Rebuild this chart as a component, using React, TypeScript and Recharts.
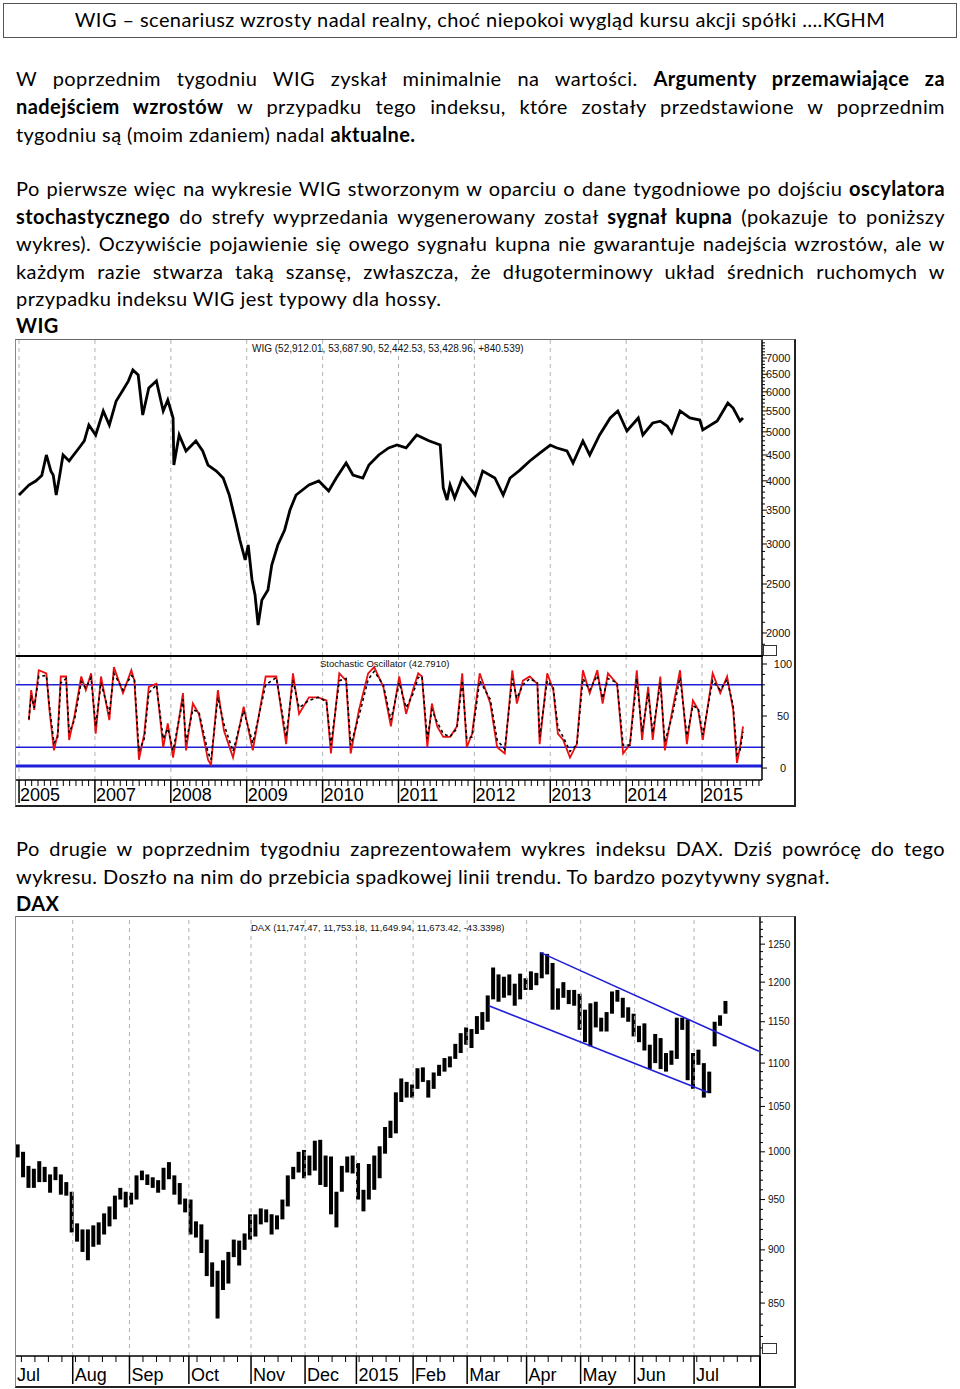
import React from "react";
import { ComposedChart, Line, Bar, XAxis, YAxis, ReferenceLine } from "recharts";

const TEXT_FONT = "Lato, 'Open Sans', sans-serif";
const AXIS_FONT = "'Liberation Sans', Arial, sans-serif";

// WIG weekly, price panel (index / 10, as on the chart scale)
const wigDates = [
  2006.0, 2006.13, 2006.22, 2006.3, 2006.36, 2006.42, 2006.45, 2006.49, 2006.53, 2006.58,
  2006.66, 2006.79, 2006.86, 2006.92, 2007.01, 2007.11, 2007.19, 2007.28, 2007.37, 2007.44,
  2007.5, 2007.57, 2007.63, 2007.71, 2007.81, 2007.9, 2007.96, 2008.03, 2008.04, 2008.11,
  2008.2, 2008.33, 2008.42, 2008.49, 2008.6, 2008.69, 2008.77, 2008.85, 2008.91, 2008.98,
  2009.02, 2009.07, 2009.11, 2009.15, 2009.2, 2009.28, 2009.33, 2009.41, 2009.5, 2009.57,
  2009.65, 2009.82, 2009.95, 2010.08, 2010.18, 2010.31, 2010.4, 2010.53, 2010.61, 2010.74,
  2010.87, 2010.98, 2011.1, 2011.24, 2011.4, 2011.55, 2011.59, 2011.64, 2011.68, 2011.74,
  2011.84, 2011.94, 2012.01, 2012.11, 2012.27, 2012.38, 2012.47, 2012.6, 2012.73, 2012.87,
  2013.0, 2013.08, 2013.22, 2013.3, 2013.43, 2013.52, 2013.65, 2013.79, 2013.89, 2014.01,
  2014.16, 2014.22, 2014.35, 2014.45, 2014.54, 2014.6, 2014.71, 2014.84, 2014.97, 2015.01,
  2015.2, 2015.34, 2015.41, 2015.5, 2015.54,
];
const wigValues = [
  3750, 3925, 3997, 4100, 4500, 4180, 4108, 3750, 4050, 4500,
  4379, 4646, 4800, 5159, 4929, 5499, 5159, 5755, 6051, 6300,
  6628, 6479, 5399, 6105, 6304, 5499, 5781, 5326, 4299, 4929,
  4583, 4796, 4583, 4299, 4183, 4052, 3750, 3347, 3055, 2789,
  2986, 2546, 2378, 2074, 2325, 2433, 2726, 2986, 3198, 3502,
  3750, 3925, 3997, 3819, 4052, 4339, 4108, 4052, 4299, 4500,
  4646, 4709, 4650, 4929, 4800, 4709, 3871, 3665, 3925, 3699,
  4052, 3871, 3750, 4183, 4052, 3750, 4052, 4200, 4379, 4550,
  4709, 4650, 4583, 4339, 4796, 4500, 4929, 5326, 5499, 5020,
  5326, 4929, 5206, 5250, 5135, 4974, 5499, 5326, 5277, 5043,
  5253, 5702, 5574, 5253, 5326,
];

// stochastic oscillator: %K (red) and %D (black dashed)
const oscDates = [
  2006.13, 2006.16, 2006.2, 2006.26, 2006.36, 2006.4, 2006.46, 2006.51, 2006.55, 2006.62,
  2006.66, 2006.73, 2006.82, 2006.88, 2006.95, 2007.01, 2007.08, 2007.19, 2007.25, 2007.37,
  2007.48, 2007.52, 2007.58, 2007.65, 2007.71, 2007.81, 2007.9, 2007.96, 2008.03, 2008.16,
  2008.2, 2008.29, 2008.37, 2008.49, 2008.53, 2008.62, 2008.7, 2008.82, 2008.96, 2009.08,
  2009.25, 2009.39, 2009.52, 2009.61, 2009.69, 2009.82, 2009.94, 2010.05, 2010.11, 2010.22,
  2010.31, 2010.37, 2010.48, 2010.6, 2010.68, 2010.8, 2010.9, 2011.01, 2011.1, 2011.19,
  2011.26, 2011.31, 2011.38, 2011.44, 2011.51, 2011.59, 2011.68, 2011.77, 2011.84, 2011.9,
  2011.97, 2012.07, 2012.21, 2012.3, 2012.4, 2012.5, 2012.56, 2012.64, 2012.73, 2012.83,
  2012.86, 2012.96, 2013.04, 2013.1, 2013.17, 2013.26, 2013.35, 2013.43, 2013.52, 2013.62,
  2013.69, 2013.76, 2013.88, 2013.96, 2014.05, 2014.14, 2014.21, 2014.29, 2014.35, 2014.45,
  2014.51, 2014.6, 2014.71, 2014.8, 2014.88, 2014.95, 2015.01, 2015.14, 2015.24, 2015.33,
  2015.41, 2015.46, 2015.5, 2015.54,
];
const oscK = [
  46, 75, 56, 94, 91, 56, 17, 33, 88, 88,
  27, 50, 88, 75, 91, 33, 88, 46, 97, 72,
  94, 84, 8, 33, 78, 81, 20, 43, 10, 72,
  17, 62, 52, 8, 3, 75, 36, 10, 59, 17,
  88, 88, 23, 91, 52, 68, 68, 65, 14, 91,
  84, 14, 56, 91, 97, 78, 40, 88, 52, 75,
  91, 88, 20, 62, 40, 30, 30, 40, 91, 20,
  33, 91, 62, 20, 14, 94, 62, 84, 88, 81,
  23, 91, 75, 33, 27, 10, 23, 94, 72, 94,
  62, 91, 81, 14, 23, 94, 27, 78, 27, 88,
  17, 52, 94, 23, 65, 56, 27, 91, 72, 88,
  56, 5, 20, 40,
];
const oscD = [
  47, 70, 58, 88, 89, 60, 24, 30, 82, 86,
  34, 46, 83, 77, 87, 40, 82, 52, 91, 75,
  89, 86, 16, 28, 72, 80, 28, 38, 17, 66,
  25, 56, 54, 15, 8, 68, 42, 16, 55, 24,
  80, 87, 30, 84, 58, 65, 68, 64, 22, 84,
  86, 22, 50, 85, 93, 80, 46, 82, 58, 71,
  87, 88, 28, 56, 44, 33, 30, 38, 84, 28,
  30, 84, 66, 27, 18, 86, 67, 80, 86, 82,
  30, 84, 77, 39, 30, 16, 22, 86, 75, 89,
  67, 86, 82, 22, 22, 86, 35, 72, 34, 82,
  25, 48, 87, 31, 60, 57, 32, 84, 75, 85,
  60, 13, 17, 35,
];

const wigYearStarts = [2006, 2007, 2008, 2009, 2010, 2011, 2012, 2013, 2014, 2015];
const wigYearLabels = ["2005", "2007", "2008", "2009", "2010", "2011", "2012", "2013", "2014", "2015"];
const wigPriceLabels = [2000, 2500, 3000, 3500, 4000, 4500, 5000, 5500, 6000, 6500, 7000];
const oscLabels = [0, 50, 100];

// DAX daily, every 2 sessions from 3 Jul 2014: low / high (index / 10)
const daxLow = [
  994, 973, 962, 962, 968, 968, 957, 970, 955, 954,
  917, 908, 898, 890, 903, 905, 915, 923, 930, 950,
  942, 945, 950, 970, 965, 962, 957, 960, 971, 955,
  945, 937, 915, 912, 897, 875, 865, 836, 862, 868,
  893, 885, 900, 910, 913, 925, 927, 915, 920, 930,
  943, 971, 978, 972, 975, 980, 965, 963, 935, 922,
  958, 978, 977, 950, 938, 950, 960, 972, 998, 1015,
  1020, 1055, 1060, 1060, 1070, 1078, 1060, 1070, 1085, 1090,
  1095, 1105, 1112, 1122, 1118, 1135, 1140, 1150, 1178, 1175,
  1180, 1183, 1170, 1178, 1190, 1190, 1196, 1205, 1210, 1165,
  1165, 1180, 1172, 1170, 1140, 1125, 1120, 1143, 1138, 1138,
  1160, 1175, 1155, 1150, 1132, 1125, 1115, 1093, 1100, 1093,
  1090, 1098, 1105, 1140, 1080, 1070, 1098, 1060, 1065, 1120,
  1145, 1160,
];
const daxHigh = [
  1008, 1000, 985, 982, 990, 984, 976, 984, 976, 968,
  958, 926, 920, 920, 924, 927, 936, 943, 954, 962,
  958, 957, 975, 980, 976, 973, 970, 983, 989, 975,
  967, 951, 950, 928, 925, 910, 888, 880, 890, 898,
  910, 909, 916, 935, 935, 941, 940, 935, 934, 950,
  975, 984, 1000, 1002, 996, 1012, 1013, 996, 995, 958,
  985, 995, 996, 988, 960, 987, 996, 1006, 1027, 1034,
  1066, 1082, 1078, 1075, 1094, 1095, 1080, 1089, 1098, 1106,
  1108, 1123, 1136, 1143, 1141, 1157, 1162, 1183, 1219, 1210,
  1207, 1210, 1198, 1211, 1205, 1214, 1212, 1239, 1237, 1225,
  1192, 1200, 1190, 1190, 1185, 1165, 1173, 1175, 1155, 1162,
  1188, 1190, 1180, 1168, 1160, 1145, 1148, 1122, 1135, 1130,
  1112, 1115, 1155, 1155, 1153, 1112, 1116, 1100, 1090, 1150,
  1158, 1176,
];
const daxMonthStarts = [21, 42, 64, 87, 107, 126, 147, 167, 189, 209, 229, 251];
const daxMonthLabels = ["Aug", "Sep", "Oct", "Nov", "Dec", "2015", "Feb", "Mar", "Apr", "May", "Jun", "Jul"];
const daxPriceLabels = [850, 900, 950, 1000, 1050, 1100, 1150, 1200, 1250];
const channelUpper = [
  { d: 194, v: 1239 },
  { d: 275, v: 1114 },
];
const channelLower = [
  { d: 175, v: 1170 },
  { d: 256, v: 1066 },
];

const WIG_X: [number, number] = [2005.96, 2015.79];
const DAX_X: [number, number] = [0, 275.4];
const GRID = "#b4b4b4";
const BLUE = "#1f1fd8";

const wigTable = wigDates.map((t, i) => ({ t, v: wigValues[i] }));
const oscTable = oscDates.map((t, i) => ({ t, k: oscK[i], d: oscD[i] }));
const daxTable = daxLow.map((lo, i) => ({ d: i * 2 + 0.5, range: [lo, daxHigh[i]] }));

// axis decorations
const priceTicks: number[] = [];
for (let v = 1900; v <= 7500; v += 100) priceTicks.push(v);
const oscTicks: number[] = [];
for (let v = 0; v <= 100; v += 10) oscTicks.push(v);
const daxYTicks: number[] = [];
for (let v = 810; v <= 1280; v += 10) daxYTicks.push(v);
const wigXTicks: number[] = [];
wigYearStarts.forEach((y) => {
  for (let m = 0; m < 12; m++) if (y + m / 12 < WIG_X[1]) wigXTicks.push(y + m / 12);
});
const daxXTicks: number[] = [0, ...daxMonthStarts];
for (let d = 2; d < DAX_X[1]; d += 5) {
  if (!daxXTicks.includes(d)) daxXTicks.push(d);
}
daxXTicks.sort((a, b) => a - b);

function makeYTick(majors: number[], len: number, dx: number, size: number, anchor: string) {
  return (props: any) => {
    const { x, y, payload } = props;
    const major = majors.includes(payload.value);
    return (
      <g>
        <line x1={x} x2={x + (major ? len : 3)} y1={y} y2={y} stroke="#000" strokeWidth={1} />
        {major && (
          <text x={x + dx} y={y + size * 0.36} fontSize={size} fontFamily={AXIS_FONT} fill="#111" textAnchor={anchor}>
            {payload.value}
          </text>
        )}
      </g>
    );
  };
}

const wigXTick = (props: any) => {
  const { x, y, payload } = props;
  const idx = wigYearStarts.indexOf(payload.value);
  if (idx < 0) return <line x1={x} x2={x} y1={y} y2={y + 6} stroke="#000" />;
  return (
    <g>
      <line x1={x} x2={x} y1={y} y2={y + 23} stroke="#000" strokeWidth={1.5} />
      <text x={x + 1} y={y + 21} fontSize={18} fontFamily={AXIS_FONT} fill="#000">
        {wigYearLabels[idx]}
      </text>
    </g>
  );
};

const daxXTick = (props: any) => {
  const { x, y, payload } = props;
  const v = payload.value;
  if (v === 0)
    return (
      <text x={x + 1} y={y + 25} fontSize={18} fontFamily={AXIS_FONT} fill="#000">
        Jul
      </text>
    );
  const idx = daxMonthStarts.indexOf(v);
  if (idx < 0) return <line x1={x} x2={x} y1={y} y2={y + 6} stroke="#000" />;
  return (
    <g>
      <line x1={x} x2={x} y1={y} y2={y + 28} stroke="#000" strokeWidth={1.5} />
      <text x={x + 2} y={y + 25} fontSize={18} fontFamily={AXIS_FONT} fill="#000">
        {daxMonthLabels[idx]}
      </text>
    </g>
  );
};

const bodyText: React.CSSProperties = {
  fontFamily: TEXT_FONT,
  fontSize: 20,
  letterSpacing: "0.42px",
  color: "#000",
};

function TextLine({ top, justify, children }: { top: number; justify?: boolean; children: React.ReactNode }) {
  return (
    <div
      style={{
        position: "absolute",
        left: 16,
        top,
        width: 929,
        lineHeight: "28px",
        textAlign: justify ? "justify" : "left",
        textAlignLast: justify ? "justify" : "left",
        ...bodyText,
      }}
    >
      {children}
    </div>
  );
}

const abs = (left: number, top: number, extra: React.CSSProperties = {}): React.CSSProperties => ({
  position: "absolute",
  left,
  top,
  ...extra,
});

export default function App() {
  return (
    <div style={{ position: "absolute", left: 0, top: 0, width: 960, height: 1389, background: "#fff", overflow: "hidden" }}>
      {/* title box */}
      <div
        style={abs(3, 3, {
          width: 954,
          height: 35,
          boxSizing: "border-box",
          border: "1.5px solid #555",
          lineHeight: "31px",
          textAlign: "center",
          ...bodyText,
        })}
      >
        WIG – scenariusz wzrosty nadal realny, choć niepokoi wygląd kursu akcji spółki ….KGHM
      </div>

      <TextLine top={64} justify>
        W poprzednim tygodniu WIG zyskał minimalnie na wartości. <b>Argumenty przemawiające za</b>
      </TextLine>
      <TextLine top={92} justify>
        <b>nadejściem wzrostów</b> w przypadku tego indeksu, które zostały przedstawione w poprzednim
      </TextLine>
      <TextLine top={120}>
        tygodniu są (moim zdaniem) nadal <b>aktualne.</b>
      </TextLine>

      <TextLine top={174} justify>
        Po pierwsze więc na wykresie WIG stworzonym w oparciu o dane tygodniowe po dojściu <b>oscylatora</b>
      </TextLine>
      <TextLine top={202} justify>
        <b>stochastycznego</b> do strefy wyprzedania wygenerowany został <b>sygnał kupna</b> (pokazuje to poniższy
      </TextLine>
      <TextLine top={229} justify>
        wykres). Oczywiście pojawienie się owego sygnału kupna nie gwarantuje nadejścia wzrostów, ale w
      </TextLine>
      <TextLine top={257} justify>
        każdym razie stwarza taką szansę, zwłaszcza, że długoterminowy układ średnich ruchomych w
      </TextLine>
      <TextLine top={284}>przypadku indeksu WIG jest typowy dla hossy.</TextLine>
      <TextLine top={311}>
        <b>WIG</b>
      </TextLine>

      {/* WIG chart frame */}
      <div
        style={abs(15, 339, {
          width: 781,
          height: 468,
          boxSizing: "border-box",
          borderTop: "1px solid #666",
          borderLeft: "1px solid #888",
          borderRight: "2px solid #222",
          borderBottom: "2px solid #222",
        })}
      />

      <div style={abs(16, 340)}>
        <ComposedChart width={779} height={316} data={wigTable} margin={{ top: 0, right: 0, bottom: 0, left: 0 }}>
          <XAxis type="number" dataKey="t" domain={WIG_X} allowDataOverflow hide />
          <YAxis
            orientation="right"
            width={33}
            scale="log"
            domain={[1801, 7598]}
            allowDataOverflow
            ticks={priceTicks}
            interval={0}
            tickLine={false}
            tickSize={0}
            tickMargin={0}
            axisLine={{ stroke: "#000", strokeWidth: 1.5 }}
            tick={makeYTick(wigPriceLabels, 5, 4, 11, "start")}
          />
          {wigYearStarts.map((y) => (
            <ReferenceLine key={y} x={y} stroke={GRID} strokeDasharray="4 4" />
          ))}
          <Line
            type="linear"
            dataKey="v"
            stroke="#000"
            strokeWidth={2.8}
            dot={false}
            isAnimationActive={false}
          />
        </ComposedChart>
      </div>

      <div style={abs(16, 656)}>
        <ComposedChart width={779} height={150} data={oscTable} margin={{ top: 0, right: 0, bottom: 0, left: 0 }}>
          <XAxis
            type="number"
            dataKey="t"
            domain={WIG_X}
            allowDataOverflow
            height={26}
            ticks={wigXTicks}
            interval={0}
            tickLine={false}
            tickSize={0}
            tickMargin={0}
            axisLine={{ stroke: "#000", strokeWidth: 1.5 }}
            tick={wigXTick}
          />
          <YAxis
            orientation="right"
            width={33}
            domain={[-11.5, 107.7]}
            allowDataOverflow
            ticks={oscTicks}
            interval={0}
            tickLine={false}
            tickSize={0}
            tickMargin={0}
            axisLine={{ stroke: "#000", strokeWidth: 1.5 }}
            tick={makeYTick(oscLabels, 5, 21, 11, "middle")}
          />
          {wigYearStarts.map((y) => (
            <ReferenceLine key={y} x={y} stroke={GRID} strokeDasharray="4 4" />
          ))}
          <ReferenceLine y={80} stroke={BLUE} strokeWidth={1.5} />
          <ReferenceLine y={20} stroke={BLUE} strokeWidth={1.5} />
          <ReferenceLine y={2} stroke={BLUE} strokeWidth={3} />
          <Line type="linear" dataKey="k" stroke="#e81010" strokeWidth={1.8} dot={false} isAnimationActive={false} />
          <Line
            type="linear"
            dataKey="d"
            stroke="#000"
            strokeWidth={1.6}
            strokeDasharray="3 3"
            dot={false}
            isAnimationActive={false}
          />
        </ComposedChart>
      </div>

      {/* panel separator and scale boxes */}
      <div style={abs(16, 655, { width: 747, height: 1.5, background: "#000" })} />
      <div style={abs(763, 645, { width: 12, height: 9, border: "1px solid #333" })} />

      <div style={abs(252, 343, { fontFamily: AXIS_FONT, fontSize: 10, color: "#111", whiteSpace: "nowrap" })}>
        WIG (52,912.01, 53,687.90, 52,442.53, 53,428.96, +840.539)
      </div>
      <div style={abs(320, 658, { fontFamily: AXIS_FONT, fontSize: 9.5, color: "#111", whiteSpace: "nowrap" })}>
        Stochastic Oscillator (42.7910)
      </div>

      <TextLine top={834} justify>
        Po drugie w poprzednim tygodniu zaprezentowałem wykres indeksu DAX. Dziś powrócę do tego
      </TextLine>
      <TextLine top={862}>wykresu. Doszło na nim do przebicia spadkowej linii trendu. To bardzo pozytywny sygnał.</TextLine>
      <TextLine top={889}>
        <b>DAX</b>
      </TextLine>

      {/* DAX chart frame */}
      <div
        style={abs(15, 916, {
          width: 781,
          height: 472,
          boxSizing: "border-box",
          borderTop: "1px solid #666",
          borderLeft: "1px solid #888",
          borderRight: "2px solid #222",
          borderBottom: "2px solid #222",
        })}
      />

      <div style={abs(16, 917)}>
        <ComposedChart width={779} height={469} data={daxTable} margin={{ top: 0, right: 0, bottom: 0, left: 0 }}>
          <XAxis
            type="number"
            dataKey="d"
            domain={DAX_X}
            allowDataOverflow
            height={30}
            ticks={daxXTicks}
            interval={0}
            tickLine={false}
            tickSize={0}
            tickMargin={0}
            axisLine={{ stroke: "#000", strokeWidth: 1.5 }}
            tick={daxXTick}
          />
          <YAxis
            orientation="right"
            width={35}
            scale="log"
            domain={[803, 1287]}
            allowDataOverflow
            ticks={daxYTicks}
            interval={0}
            tickLine={false}
            tickSize={0}
            tickMargin={0}
            axisLine={{ stroke: "#000", strokeWidth: 1.5 }}
            tick={makeYTick(daxPriceLabels, 5, 8, 10, "start")}
          />
          {daxMonthStarts.map((d) => (
            <ReferenceLine key={d} x={d} stroke={GRID} strokeDasharray="4 4" />
          ))}
          <Bar dataKey="range" fill="#000" barSize={4} isAnimationActive={false} />
          <ReferenceLine
            segment={[
              { x: channelUpper[0].d, y: channelUpper[0].v },
              { x: channelUpper[1].d, y: channelUpper[1].v },
            ]}
            stroke={BLUE}
            strokeWidth={1.6}
            ifOverflow="visible"
          />
          <ReferenceLine
            segment={[
              { x: channelLower[0].d, y: channelLower[0].v },
              { x: channelLower[1].d, y: channelLower[1].v },
            ]}
            stroke={BLUE}
            strokeWidth={1.6}
            ifOverflow="visible"
          />
        </ComposedChart>
      </div>

      <div style={abs(759, 1356, { width: 1.5, height: 30, background: "#000" })} />
      <div style={abs(762, 1343, { width: 13, height: 9, border: "1px solid #333" })} />
      <div style={abs(251, 922, { fontFamily: AXIS_FONT, fontSize: 9.5, color: "#111", whiteSpace: "nowrap" })}>
        DAX (11,747.47, 11,753.18, 11,649.94, 11,673.42, -43.3398)
      </div>
    </div>
  );
}
